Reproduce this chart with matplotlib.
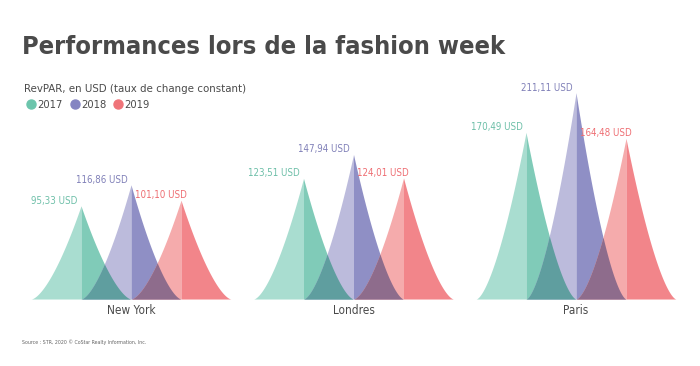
import numpy as np
import matplotlib.pyplot as plt
from matplotlib.lines import Line2D

# Données (RevPAR en USD)
villes = ['New York', 'Londres', 'Paris']
annees = ['2017', '2018', '2019']
revpar_2017 = [95.33, 123.51, 170.49]
revpar_2018 = [116.86, 147.94, 211.11]
revpar_2019 = [101.10, 124.01, 164.48]

couleurs_claires = ['#a9ddd0', '#bcbbdc', '#f5abac']
couleurs_foncees = ['#80cbb8', '#8f8fc5', '#f2858a']
couleurs_chevauchement = ['#5f9e9f', '#8e6c8c']
couleurs_legende = ['#6cc5ac', '#8585c2', '#ef7479']
couleurs_texte = ['#6dbfa8', '#8080b8', '#ee6e73']
gris = '#4a4a4a'

police = dict(family='DejaVu Sans', stretch='condensed')

fig = plt.figure(figsize=(7, 3.66), dpi=100)
fig.patch.set_facecolor('white')
ax = fig.add_axes([0, 0.183, 1, 0.598])
ax.set_xlim(-2.62, 11.38)
ax.set_ylim(0, 224)
ax.axis('off')

t = np.linspace(0, 1, 300)
p = 1.55
ecart_groupes = 4.45

series = [revpar_2017, revpar_2018, revpar_2019]
for g, ville in enumerate(villes):
    centre = g * ecart_groupes
    hauteurs = [s[g] for s in series]
    pics = [centre + k - 1 for k in range(3)]
    for k in range(3):
        h = hauteurs[k]
        # moitié gauche claire, moitié droite foncée
        ax.fill_between(pics[k] - t, 0, h * (1 - t) ** p, color=couleurs_claires[k], lw=0)
        ax.fill_between(pics[k] + t, 0, h * (1 - t) ** p, color=couleurs_foncees[k], lw=0)
    # zones de chevauchement
    for k in range(2):
        x = pics[k] + t
        y1 = hauteurs[k] * (1 - t) ** p
        y2 = hauteurs[k + 1] * t ** p
        ax.fill_between(x, 0, np.minimum(y1, y2), color=couleurs_chevauchement[k], lw=0)
    # étiquettes de valeurs
    for k in range(3):
        txt = f'{hauteurs[k]:.2f} USD'.replace('.', ',')
        dx = 4 if k == 2 else -2.5
        ax.annotate(txt, xy=(pics[k], hauteurs[k]), xytext=(dx, 1.5),
                    textcoords='offset points', ha='right', va='baseline',
                    fontsize=7, color=couleurs_texte[k], **police)
    ax.text(centre, -11.5, ville, ha='center', va='center', fontsize=8.5,
            color=gris, **police)

# titre et sous-titre
fig.text(22 / 700, 1 - 47 / 366, 'Performances lors de la fashion week',
         fontsize=18.3, fontweight='bold', color=gris, va='center', **police)
fig.text(24 / 700, 1 - 89 / 366, 'RevPAR, en USD (taux de change constant)',
         fontsize=8.2, color=gris, va='center', **police)

# légende
poignees = [Line2D([], [], marker='o', ls='', markersize=6.5, color=c) for c in couleurs_legende]
fig.legend(poignees, annees, loc='center left', bbox_to_anchor=(20 / 700, 1 - 105 / 366),
           ncol=3, frameon=False, handletextpad=0.05, columnspacing=0.6,
           prop=dict(size=8, **police), labelcolor=gris, borderpad=0, handlelength=1)

# source
fig.text(22 / 700, 1 - 342 / 366, 'Source : STR, 2020 © CoStar Realty Information, Inc.',
         fontsize=3.8, color='#666666', va='center', **police)

fig.savefig('out.png', dpi=100)
